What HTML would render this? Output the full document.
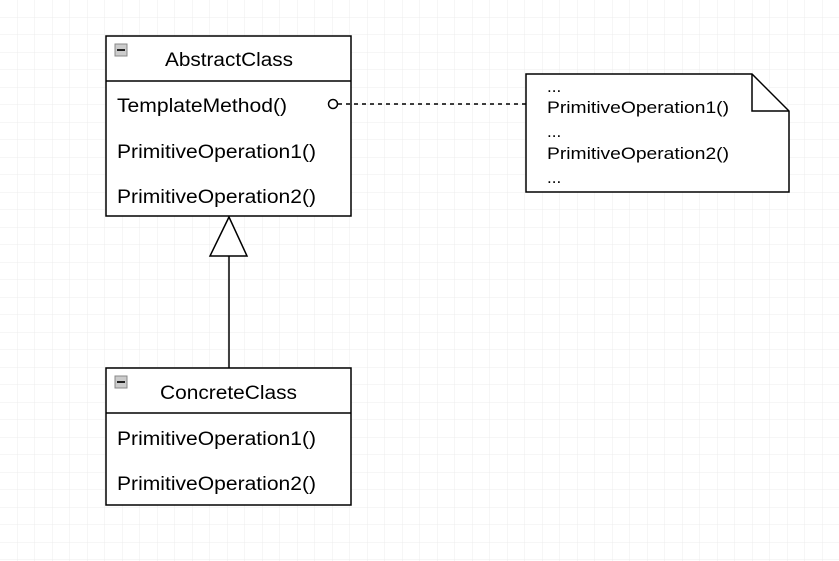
<html><body style="margin:0;width:839px;height:561px;overflow:hidden;background:#fff">
<svg width="839" height="561" xmlns="http://www.w3.org/2000/svg" style="font-family:'Liberation Sans',sans-serif">
<defs><pattern id="g" width="17.5" height="17.5" patternUnits="userSpaceOnUse"><path d="M17.5 0V17.5M0 17.5H17.5" stroke="#ececec" stroke-width="1" fill="none"/></pattern></defs>
<rect width="839" height="561" fill="url(#g)"/>
<g stroke="#000" stroke-width="1.5" fill="#fff">
<rect x="106" y="36" width="245" height="180"/>
<line x1="106" y1="81" x2="351" y2="81"/>
<rect x="106" y="368" width="245" height="137"/>
<line x1="106" y1="413" x2="351" y2="413"/>
<line x1="229" y1="256" x2="229" y2="368"/>
<polygon points="229,217 210,256 247,256"/>
<path d="M526 74H752L789 111V192H526Z"/>
<path d="M752 74V111H789" fill="none"/>
<line x1="338" y1="104" x2="526" y2="104" stroke-dasharray="4,4"/>
<circle cx="333" cy="104" r="4.5"/>
</g>
<g fill="#ccc" stroke="#888" stroke-width="1"><rect x="115" y="44" width="12" height="12"/><rect x="115" y="376" width="12" height="12"/></g>
<g fill="#222"><rect x="117" y="49" width="8" height="2"/><rect x="117" y="381" width="8" height="2"/></g>
<g font-size="19" fill="#000" lengthAdjust="spacingAndGlyphs">
<text x="165" y="66" textLength="128" lengthAdjust="spacingAndGlyphs">AbstractClass</text>
<text x="117" y="112" textLength="170" lengthAdjust="spacingAndGlyphs">TemplateMethod()</text>
<text x="117" y="158" textLength="199" lengthAdjust="spacingAndGlyphs">PrimitiveOperation1()</text>
<text x="117" y="203" textLength="199" lengthAdjust="spacingAndGlyphs">PrimitiveOperation2()</text>
<text x="160" y="399" textLength="137" lengthAdjust="spacingAndGlyphs">ConcreteClass</text>
<text x="117" y="445" textLength="199" lengthAdjust="spacingAndGlyphs">PrimitiveOperation1()</text>
<text x="117" y="490" textLength="199" lengthAdjust="spacingAndGlyphs">PrimitiveOperation2()</text>
</g>
<g font-size="17" fill="#000">
<text x="547" y="92">...</text>
<text x="547" y="113" textLength="182" lengthAdjust="spacingAndGlyphs">PrimitiveOperation1()</text>
<text x="547" y="137">...</text>
<text x="547" y="159" textLength="182" lengthAdjust="spacingAndGlyphs">PrimitiveOperation2()</text>
<text x="547" y="183">...</text>
</g>
</svg>
</body></html>
